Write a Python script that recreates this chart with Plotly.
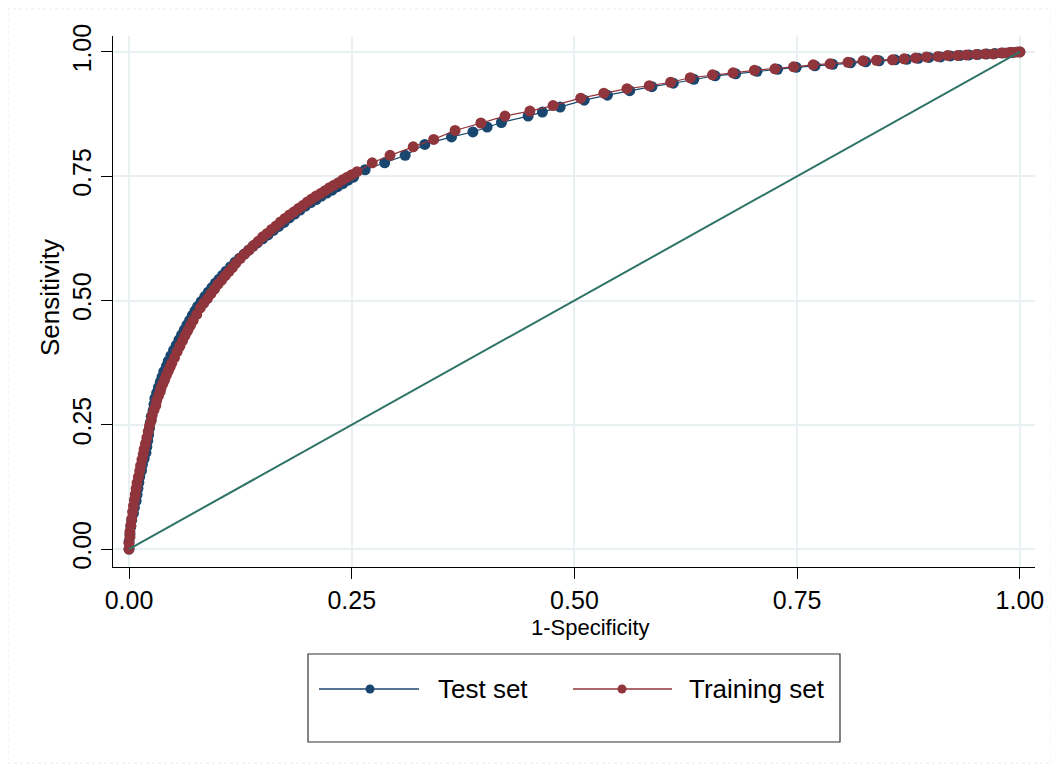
import plotly.graph_objects as go

# ---------------- data ----------------
train_x = [0.000, 0.000, 0.001, 0.001, 0.002, 0.003, 0.004, 0.005, 0.006, 0.007,
           0.008, 0.009, 0.0105, 0.012, 0.013, 0.0145, 0.016, 0.017, 0.0185, 0.020,
           0.0215, 0.023, 0.025, 0.026, 0.028, 0.030, 0.031, 0.033, 0.035, 0.036,
           0.038, 0.040, 0.042, 0.044, 0.046, 0.048, 0.051, 0.054, 0.057, 0.060,
           0.063, 0.066, 0.069, 0.072, 0.076, 0.080, 0.084, 0.088, 0.092, 0.096,
           0.100, 0.104, 0.108, 0.112, 0.116, 0.120, 0.125, 0.130, 0.135, 0.140,
           0.145, 0.150, 0.155, 0.160, 0.165, 0.170, 0.175, 0.180, 0.185, 0.190,
           0.195, 0.200, 0.205, 0.210, 0.215, 0.220, 0.225, 0.230, 0.235, 0.240,
           0.245, 0.250, 0.256, 0.273, 0.293, 0.319, 0.342, 0.366, 0.395, 0.422,
           0.450, 0.476, 0.507, 0.533, 0.559, 0.584, 0.608, 0.630, 0.655, 0.678,
           0.702, 0.725, 0.746, 0.768, 0.787, 0.807, 0.824, 0.839, 0.857, 0.870,
           0.883, 0.895, 0.908, 0.919, 0.930, 0.940, 0.951, 0.961, 0.970, 0.979,
           0.985, 0.989, 0.993, 0.997, 1.000]
train_y = [0.000, 0.012, 0.024, 0.035, 0.048, 0.061, 0.075, 0.087, 0.099, 0.110,
           0.122, 0.133, 0.145, 0.157, 0.168, 0.180, 0.191, 0.201, 0.212, 0.224,
           0.236, 0.248, 0.259, 0.269, 0.280, 0.289, 0.299, 0.308, 0.317, 0.325,
           0.333, 0.341, 0.350, 0.358, 0.366, 0.374, 0.385, 0.397, 0.408, 0.419,
           0.430, 0.440, 0.450, 0.460, 0.472, 0.485, 0.495, 0.504, 0.514, 0.523,
           0.533, 0.541, 0.550, 0.558, 0.566, 0.575, 0.585, 0.594, 0.602, 0.611,
           0.619, 0.628, 0.635, 0.643, 0.650, 0.658, 0.665, 0.672, 0.678, 0.685,
           0.691, 0.698, 0.704, 0.710, 0.715, 0.721, 0.727, 0.732, 0.737, 0.743,
           0.748, 0.753, 0.759, 0.777, 0.792, 0.809, 0.824, 0.842, 0.857, 0.871,
           0.881, 0.892, 0.907, 0.917, 0.926, 0.932, 0.939, 0.948, 0.954, 0.958,
           0.963, 0.966, 0.970, 0.974, 0.976, 0.979, 0.982, 0.983, 0.984, 0.986,
           0.988, 0.990, 0.991, 0.993, 0.993, 0.994, 0.995, 0.996, 0.996, 0.998,
           0.998, 0.999, 0.999, 1.000, 1.000]

test_x = [0.000, 0.000, 0.001, 0.002, 0.003, 0.005, 0.006, 0.008, 0.009, 0.010,
          0.011, 0.012, 0.014, 0.015, 0.017, 0.019, 0.020, 0.021, 0.022, 0.023,
          0.024, 0.025, 0.027, 0.028, 0.029, 0.031, 0.033, 0.035, 0.037, 0.039,
          0.042, 0.044, 0.047, 0.050, 0.053, 0.056, 0.059, 0.062, 0.065, 0.068,
          0.071, 0.074, 0.077, 0.081, 0.085, 0.089, 0.093, 0.097, 0.101, 0.105,
          0.109, 0.114, 0.119, 0.124, 0.129, 0.134, 0.139, 0.144, 0.150, 0.156,
          0.162, 0.168, 0.174, 0.180, 0.186, 0.192, 0.198, 0.204, 0.210, 0.216,
          0.222, 0.228, 0.234, 0.240, 0.246, 0.252, 0.265, 0.287, 0.310, 0.332,
          0.362, 0.386, 0.402, 0.418, 0.448, 0.464, 0.484, 0.511, 0.537, 0.562,
          0.587, 0.611, 0.634, 0.658, 0.681, 0.705, 0.728, 0.749, 0.770, 0.790,
          0.810, 0.827, 0.842, 0.860, 0.873, 0.886, 0.898, 0.911, 0.922, 0.933,
          0.943, 0.953, 0.963, 0.972, 0.981, 0.990, 1.000]
test_y = [0.000, 0.015, 0.030, 0.045, 0.058, 0.072, 0.084, 0.097, 0.110, 0.122,
          0.134, 0.146, 0.158, 0.170, 0.182, 0.194, 0.206, 0.218, 0.230, 0.243,
          0.255, 0.267, 0.279, 0.291, 0.303, 0.314, 0.325, 0.336, 0.346, 0.357,
          0.368, 0.378, 0.389, 0.400, 0.410, 0.421, 0.431, 0.441, 0.451, 0.460,
          0.470, 0.479, 0.488, 0.498, 0.508, 0.517, 0.526, 0.535, 0.543, 0.551,
          0.559, 0.568, 0.577, 0.585, 0.593, 0.601, 0.609, 0.616, 0.624, 0.632,
          0.641, 0.649, 0.657, 0.666, 0.674, 0.682, 0.690, 0.697, 0.703, 0.710,
          0.716, 0.722, 0.729, 0.735, 0.742, 0.748, 0.763, 0.777, 0.792, 0.814,
          0.829, 0.839, 0.849, 0.858, 0.871, 0.879, 0.889, 0.903, 0.913, 0.922,
          0.930, 0.937, 0.945, 0.952, 0.956, 0.961, 0.965, 0.969, 0.972, 0.975,
          0.978, 0.980, 0.982, 0.984, 0.985, 0.987, 0.989, 0.990, 0.992, 0.993,
          0.994, 0.995, 0.996, 0.997, 0.998, 0.999, 1.000]

ref_x = [0.0, 1.0]
ref_y = [0.0, 1.0]

tick_vals = [0.0, 0.25, 0.5, 0.75, 1.0]
tick_text = ["0.00", "0.25", "0.50", "0.75", "1.00"]

series_names = ["Test set", "Training set"]
x_title = "1-Specificity"
y_title = "Sensitivity"

# ---------------- style ----------------
NAVY = "#1a476f"
MAROON = "#90353b"
TEAL = "#2e7366"
GRID = "#e8f0f2"
FONT = "Liberation Sans, Arial, sans-serif"

OFF = 8  # page body margin offset (screen px -> figure px)
W, H = 1051, 763
L, R, T, B = 105, 24, 28, 204
PW, PH = W - L - R, H - T - B


def px(xs):
    return (xs - OFF - L) / PW


def py(ys):
    return (H - B - (ys - OFF)) / PH


fig = go.Figure()
fig.add_trace(go.Scatter(x=test_x, y=test_y, mode="lines+markers", name=series_names[0],
                         line=dict(color=NAVY, width=1.2),
                         marker=dict(color=NAVY, size=11, line=dict(width=0)),
                         showlegend=False))
fig.add_trace(go.Scatter(x=train_x, y=train_y, mode="lines+markers", name=series_names[1],
                         line=dict(color=MAROON, width=1.2),
                         marker=dict(color=MAROON, size=11, line=dict(width=0)),
                         showlegend=False))
fig.add_trace(go.Scatter(x=ref_x, y=ref_y, mode="lines", line=dict(color=TEAL, width=2),
                         showlegend=False, hoverinfo="skip"))

axis_common = dict(
    tickvals=tick_vals, ticktext=tick_text, showgrid=True, gridcolor=GRID, gridwidth=2,
    zeroline=False, showline=True, linecolor="black", linewidth=1,
    ticks="outside", ticklen=11, tickcolor="black", tickwidth=1,
    tickfont=dict(family=FONT, size=25, color="black"),
)

fig.update_layout(
    width=W, height=H,
    margin=dict(l=L, r=R, t=T, b=B, pad=0),
    paper_bgcolor="white", plot_bgcolor="white",
    xaxis=dict(range=[-0.018, 1.017], **axis_common),
    yaxis=dict(range=[-0.036, 1.032], tickangle=-90, **axis_common),
    showlegend=False,
)

shapes = []
# faint outer frame
shapes.append(dict(type="rect", xref="paper", yref="paper",
                   x0=px(8), x1=px(1051), y0=py(763), y1=py(9),
                   line=dict(color="#e3ecef", width=1, dash="dot"), layer="below"))
# legend box
shapes.append(dict(type="rect", xref="paper", yref="paper",
                   x0=px(308), x1=px(840), y0=py(742), y1=py(654),
                   line=dict(color="#333333", width=1.2), fillcolor="white"))
leg_y = py(689)
for (a, b, m, c) in [(319, 419, 370, NAVY), (573, 672, 622, MAROON)]:
    shapes.append(dict(type="line", xref="paper", yref="paper",
                       x0=px(a), x1=px(b), y0=leg_y, y1=leg_y,
                       line=dict(color=c, width=1.3)))
    shapes.append(dict(type="circle", xref="paper", yref="paper",
                       xsizemode="pixel", ysizemode="pixel",
                       xanchor=px(m), yanchor=leg_y, x0=-4.5, x1=4.5, y0=-4.5, y1=4.5,
                       fillcolor=c, line=dict(width=0)))
fig.update_layout(shapes=shapes)

annotations = [
    dict(text=series_names[0], x=px(436), y=leg_y, xref="paper", yref="paper",
         xanchor="left", yanchor="middle", showarrow=False,
         font=dict(family=FONT, size=26, color="black")),
    dict(text=series_names[1], x=px(687), y=leg_y, xref="paper", yref="paper",
         xanchor="left", yanchor="middle", showarrow=False,
         font=dict(family=FONT, size=26, color="black")),
    dict(text=x_title, x=px(590), y=py(627), xref="paper", yref="paper",
         xanchor="center", yanchor="middle", showarrow=False,
         font=dict(family=FONT, size=22, color="black")),
    dict(text=y_title, x=px(50), y=py(298), xref="paper", yref="paper",
         xanchor="center", yanchor="middle", showarrow=False, textangle=-90,
         font=dict(family=FONT, size=26, color="black")),
]
fig.update_layout(annotations=annotations)

fig.write_html("out.html")
